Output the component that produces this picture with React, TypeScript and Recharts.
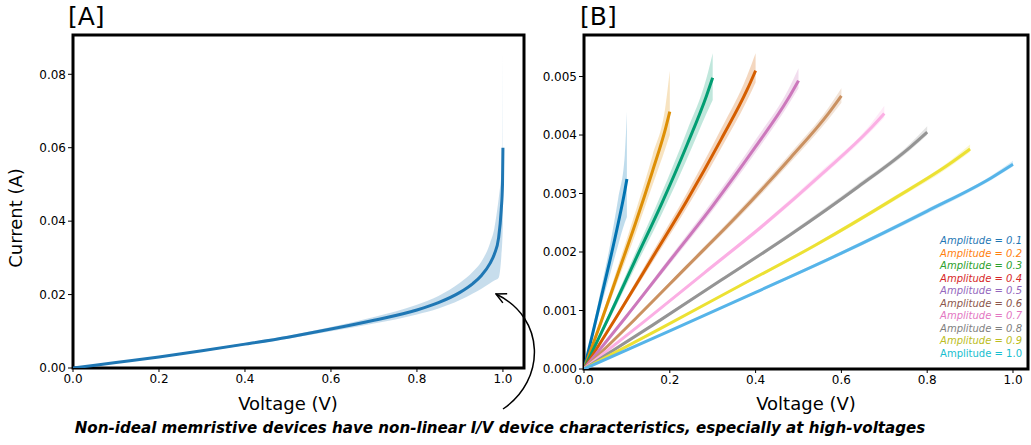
import React from 'react';
import { ComposedChart, Area, Line, XAxis, YAxis, ReferenceArea } from 'recharts';

// [A] single device I/V sweep
const aVolt = [0, 0.1, 0.2, 0.3, 0.4, 0.5, 0.6, 0.7, 0.8, 0.85, 0.9, 0.93, 0.95, 0.97, 0.98, 0.99, 0.996, 0.999, 1.0];
const aMean = [0, 0.0015, 0.003, 0.0047, 0.0065, 0.0084, 0.0106, 0.013, 0.0158, 0.0178, 0.0206, 0.023, 0.0252, 0.0285, 0.031, 0.0355, 0.043, 0.05, 0.06];
const aLow = [0, 0.0014, 0.0029, 0.0045, 0.0062, 0.008, 0.01, 0.0121, 0.0146, 0.0162, 0.0185, 0.0203, 0.0216, 0.0231, 0.0238, 0.0246, 0.03, 0.036, 0.04];
const aHigh = [0, 0.0016, 0.0031, 0.0049, 0.0068, 0.0088, 0.0112, 0.0139, 0.0172, 0.0196, 0.0232, 0.0262, 0.029, 0.034, 0.038, 0.046, 0.052, 0.056, 0.086];
const aXTicks = [0, 0.2, 0.4, 0.6, 0.8, 1.0];
const aYTicks = [0, 0.02, 0.04, 0.06, 0.08];

// [B] sweeps at different amplitudes
const amplitudes = [0.1, 0.2, 0.3, 0.4, 0.5, 0.6, 0.7, 0.8, 0.9, 1.0];
const sampleFrac = [0, 0.2, 0.4, 0.6, 0.8, 0.95, 1.0];
const bMean = [
  [0, 0.0006, 0.00122, 0.00184, 0.0025, 0.00304, 0.00325],
  [0, 0.00081, 0.00165, 0.00249, 0.00339, 0.00411, 0.0044],
  [0, 0.00092, 0.00187, 0.00281, 0.00383, 0.00466, 0.00498],
  [0, 0.00094, 0.00191, 0.00288, 0.00393, 0.00477, 0.0051],
  [0, 0.00091, 0.00185, 0.00279, 0.0038, 0.00461, 0.00493],
  [0, 0.00086, 0.00175, 0.00264, 0.0036, 0.00437, 0.00467],
  [0, 0.00081, 0.00164, 0.00247, 0.00337, 0.00409, 0.00437],
  [0, 0.00075, 0.00152, 0.00229, 0.00312, 0.00379, 0.00405],
  [0, 0.0007, 0.00141, 0.00212, 0.0029, 0.00352, 0.00376],
  [0, 0.00065, 0.00131, 0.00198, 0.0027, 0.00327, 0.0035],
];
const bLow = [
  [0, 0.00052, 0.00108, 0.0016, 0.00213, 0.0025, 0.0026],
  [0, 0.00075, 0.00153, 0.00231, 0.00315, 0.00378, 0.004],
  [0, 0.00086, 0.00175, 0.00263, 0.00359, 0.00436, 0.0046],
  [0, 0.0009, 0.00183, 0.00276, 0.00378, 0.00459, 0.0049],
  [0, 0.00088, 0.00179, 0.00271, 0.0037, 0.0045, 0.0048],
  [0, 0.00084, 0.00171, 0.00258, 0.00352, 0.00427, 0.00455],
  [0, 0.00079, 0.00161, 0.00243, 0.00332, 0.00403, 0.0043],
  [0, 0.00073, 0.00149, 0.00226, 0.00308, 0.00374, 0.004],
  [0, 0.00069, 0.00139, 0.00209, 0.00286, 0.00347, 0.00371],
  [0, 0.00064, 0.00129, 0.00195, 0.00266, 0.00323, 0.00346],
];
const bHigh = [
  [0, 0.00068, 0.00138, 0.00209, 0.00293, 0.00365, 0.0044],
  [0, 0.00087, 0.00178, 0.00269, 0.00366, 0.0045, 0.0051],
  [0, 0.00098, 0.00199, 0.00299, 0.00407, 0.00496, 0.0054],
  [0, 0.00098, 0.002, 0.00301, 0.00411, 0.00501, 0.0054],
  [0, 0.00094, 0.00191, 0.00288, 0.00392, 0.00476, 0.00514],
  [0, 0.00088, 0.00179, 0.0027, 0.00368, 0.00447, 0.0048],
  [0, 0.00083, 0.00167, 0.00251, 0.00343, 0.00416, 0.0045],
  [0, 0.00077, 0.00155, 0.00233, 0.00317, 0.00385, 0.00415],
  [0, 0.00071, 0.00143, 0.00215, 0.00294, 0.00357, 0.00384],
  [0, 0.00066, 0.00133, 0.00201, 0.00274, 0.00331, 0.00356],
];
const bXTicks = [0, 0.2, 0.4, 0.6, 0.8, 1.0];
const bYTicks = [0, 0.001, 0.002, 0.003, 0.004, 0.005];

const lineColors = ['#0173b2', '#de8f05', '#029e73', '#d55e00', '#cc78bc', '#ca9161', '#fbafe4', '#949494', '#ece133', '#56b4e9'];
const legendColors = ['#1f77b4', '#ff7f0e', '#2ca02c', '#d62728', '#9467bd', '#8c564b', '#e377c2', '#7f7f7f', '#bcbd22', '#17becf'];

const FONT = '"DejaVu Sans", sans-serif';

const aData = aVolt.map((v, i) => ({ v, mean: aMean[i], band: [aLow[i], aHigh[i]] }));
const bSeries = amplitudes.map((a, k) =>
  sampleFrac.map((f, i) => ({ v: a * f, mean: bMean[k][i], band: [bLow[k][i], bHigh[k][i]] }))
);

const tickStyle = { fill: '#000', fontSize: 12, fontFamily: FONT };

const PanelA = () => (
  <ComposedChart width={530} height={445} data={aData} margin={{ top: 35, right: 6, left: 13, bottom: 47 }}>
    <XAxis
      dataKey="v"
      type="number"
      domain={[0, 1.049]}
      ticks={aXTicks}
      tickFormatter={(t: number) => t.toFixed(1)}
      tick={tickStyle}
      axisLine={false}
      tickLine={{ stroke: '#000' }}
      tickSize={4}
      height={30}
      allowDataOverflow
    />
    <YAxis
      type="number"
      domain={[0, 0.0907]}
      ticks={aYTicks}
      tickFormatter={(t: number) => t.toFixed(2)}
      tick={tickStyle}
      axisLine={false}
      tickLine={{ stroke: '#000' }}
      tickSize={5}
      width={60}
      allowDataOverflow
    />
    <Area dataKey="band" type="monotone" stroke="none" fill="#1f77b4" fillOpacity={0.25} isAnimationActive={false} activeDot={false} />
    <Line dataKey="mean" type="monotone" stroke="#1f77b4" strokeWidth={3} dot={false} activeDot={false} isAnimationActive={false} />
    <ReferenceArea x1={0} x2={1.049} y1={0} y2={0.0907} fill="none" stroke="#000" strokeWidth={3} ifOverflow="visible" />
  </ComposedChart>
);

const PanelB = () => (
  <ComposedChart width={501} height={445} margin={{ top: 35, right: 3, left: 0, bottom: 46 }}>
    <XAxis
      dataKey="v"
      type="number"
      domain={[0, 1.035]}
      ticks={bXTicks}
      tickFormatter={(t: number) => t.toFixed(1)}
      tick={tickStyle}
      axisLine={false}
      tickLine={{ stroke: '#000' }}
      tickSize={4}
      height={30}
      allowDataOverflow
    />
    <YAxis
      type="number"
      domain={[0, 0.00571]}
      ticks={bYTicks}
      tickFormatter={(t: number) => t.toFixed(3)}
      tick={tickStyle}
      axisLine={false}
      tickLine={{ stroke: '#000' }}
      tickSize={5}
      width={54}
      allowDataOverflow
    />
    {bSeries.map((s, k) => (
      <Area
        key={'band' + k}
        data={s}
        dataKey="band"
        type="monotone"
        stroke="none"
        fill={lineColors[k]}
        fillOpacity={0.25}
        isAnimationActive={false}
        activeDot={false}
      />
    ))}
    {bSeries.map((s, k) => (
      <Line
        key={'line' + k}
        data={s}
        dataKey="mean"
        type="monotone"
        stroke={lineColors[k]}
        strokeWidth={3}
        dot={false}
        activeDot={false}
        isAnimationActive={false}
      />
    ))}
    <ReferenceArea x1={0} x2={1.035} y1={0} y2={0.00571} fill="none" stroke="#000" strokeWidth={3} ifOverflow="visible" />
  </ComposedChart>
);

export default function App() {
  return (
    <div style={{ position: 'absolute', left: 0, top: 0, width: 1031, height: 445, background: '#fff', fontFamily: FONT }}>
      <div style={{ position: 'absolute', left: 0, top: 0 }}>
        <PanelA />
      </div>
      <div style={{ position: 'absolute', left: 530, top: 0 }}>
        <PanelB />
      </div>
      {/* legend of panel B */}
      <div style={{ position: 'absolute', right: 9, top: 235, textAlign: 'right', fontSize: 10, lineHeight: '12.5px' }}>
        {amplitudes.map((a, k) => (
          <div key={k} style={{ color: legendColors[k], fontStyle: k < 9 ? 'italic' : 'normal' }}>
            {'Amplitude = ' + a.toFixed(1)}
          </div>
        ))}
      </div>
      <svg width={1031} height={445} style={{ position: 'absolute', left: 0, top: 0, pointerEvents: 'none' }}>
        <defs>
          <marker id="head" markerWidth="12" markerHeight="12" refX="11" refY="6" orient="auto" markerUnits="userSpaceOnUse">
            <path d="M 1 1 L 11 6 L 1 11" fill="none" stroke="#000" strokeWidth={1.5} />
          </marker>
        </defs>
        <text x={68} y={25} fontSize={25} fontFamily={FONT} fill="#000">[A]</text>
        <text x={580} y={25} fontSize={25} fontFamily={FONT} fill="#000">[B]</text>
        <text transform="translate(22,218) rotate(-90)" textAnchor="middle" fontSize={18} fontFamily={FONT} fill="#000">Current (A)</text>
        <text x={288} y={410} textAnchor="middle" fontSize={18} fontFamily={FONT} fill="#000">Voltage (V)</text>
        <text x={806} y={410} textAnchor="middle" fontSize={18} fontFamily={FONT} fill="#000">Voltage (V)</text>
        <path d="M 503 409 C 546 380, 546 318, 496 294" fill="none" stroke="#000" strokeWidth={1.5} markerEnd="url(#head)" />
        <text x={500} y={433} textAnchor="middle" fontSize={15.1} fontWeight="bold" fontStyle="italic" fontFamily={FONT} fill="#000">
          Non-ideal memristive devices have non-linear I/V device characteristics, especially at high-voltages
        </text>
      </svg>
    </div>
  );
}
